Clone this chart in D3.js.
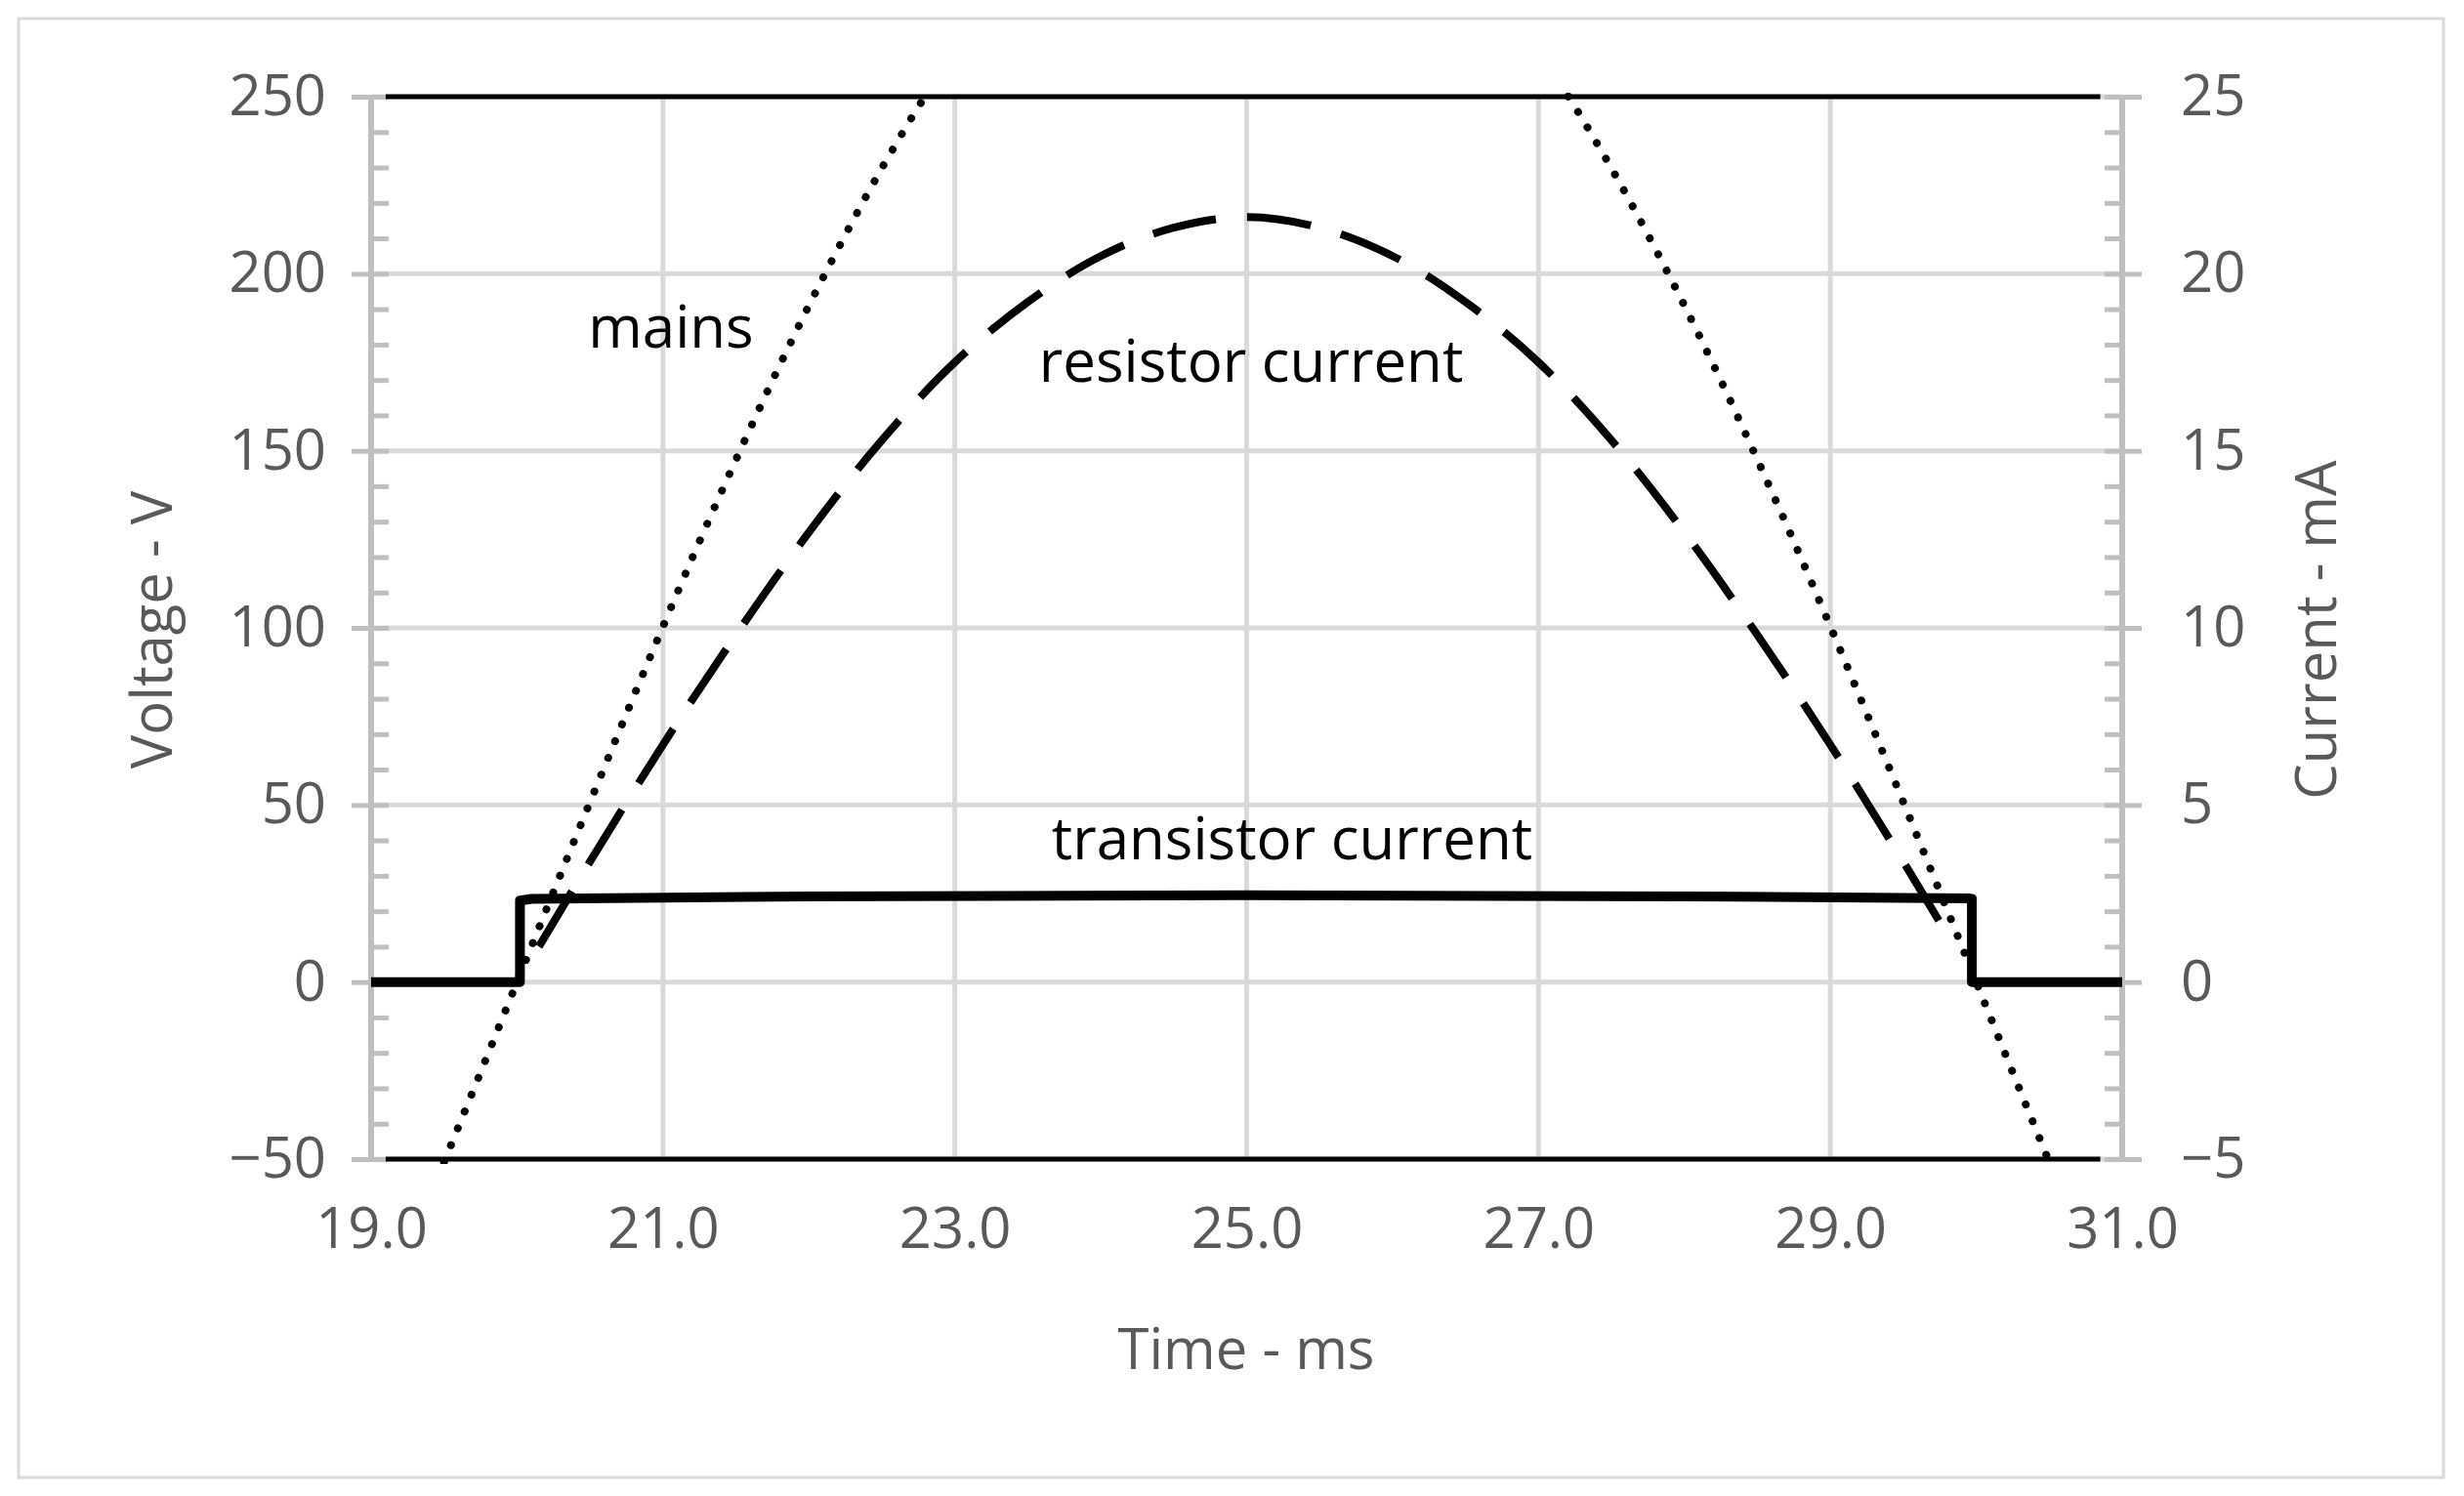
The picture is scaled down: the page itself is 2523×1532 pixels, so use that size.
<!DOCTYPE html>
<html><head><meta charset="utf-8">
<script src="https://cdn.jsdelivr.net/npm/d3@7"></script>
<style>body{margin:0;background:#fff}text{font-family:"Open Sans",sans-serif}</style>
</head><body><svg id="c" width="2523" height="1532"></svg>
<script>
const xTicks=[19,21,23,25,27,29,31];
const vTicks=[-50,0,50,100,150,200,250];
const iTicks=[-5,0,5,10,15,20,25];
const mainsT=[19.5,19.75,20,20.25,20.5,20.75,21,21.25,21.5,21.75,22,22.25,22.5,22.75,23,27,27.25,27.5,27.75,28,28.25,28.5,28.75,29,29.25,29.5,29.75,30,30.25,30.5];
const mainsV=[-50.8,-25.5,0,25.5,50.8,75.8,100.4,124.4,147.5,169.8,191.0,211.0,229.8,247.1,262.9,262.9,247.1,229.8,211.0,191.0,169.8,147.5,124.4,100.4,75.8,50.8,25.5,0,-25.5,-50.8];
const resT=[20.15,20.5,21,21.5,22,22.5,23,23.5,24,24.5,25,25.5,26,26.5,27,27.5,28,28.5,29,29.5,29.85];
const resI=[1.0,3.4,6.7,9.8,12.7,15.3,17.5,19.2,20.5,21.3,21.6,21.3,20.5,19.2,17.5,15.3,12.7,9.8,6.7,3.4,1.0];
const trT=[19,20.02,20.02,20.1,22,25,28,29.95,29.97,29.97,31];
const trI=[0,0,2.3,2.35,2.42,2.45,2.42,2.36,2.35,0,0];
const limT=[19.1,30.85];
const limTop=[250,250];
const limBot=[-50,-50];

const svg=d3.select("#c");
svg.append("rect").attr("x",19).attr("y",19).attr("width",2483).attr("height",1494).attr("fill","none").attr("stroke","#d9d9d9").attr("stroke-width",3);
const x=d3.scaleLinear().domain([19,31]).range([380,2173]);
const yV=d3.scaleLinear().domain([-50,250]).range([1187,99]);
const yI=d3.scaleLinear().domain([-5,25]).range([1187,99]);
const g=svg.append("g");
g.selectAll(".hg").data(vTicks).join("line").attr("x1",380).attr("x2",2173).attr("y1",d=>yV(d)).attr("y2",d=>yV(d)).attr("stroke","#d9d9d9").attr("stroke-width",5);
g.selectAll(".vg").data(xTicks.slice(1,-1)).join("line").attr("x1",d=>x(d)).attr("x2",d=>x(d)).attr("y1",99).attr("y2",1187).attr("stroke","#d9d9d9").attr("stroke-width",5);
const minor=d3.range(-50,251,10);
const la=svg.append("g").attr("transform","translate(380,0)").call(d3.axisLeft(yV).tickValues(minor).tickSize(-18).tickFormat(""));
const lb=svg.append("g").attr("transform","translate(380,0)").call(d3.axisLeft(yV).tickValues(vTicks).tickSize(20).tickPadding(26).tickFormat(d=>d<0?"\u2212"+(-d):d));
const ra=svg.append("g").attr("transform","translate(2173,0)").call(d3.axisRight(yI).tickValues(d3.range(-5,25.1,1)).tickSize(-18).tickFormat(""));
const rb=svg.append("g").attr("transform","translate(2173,0)").call(d3.axisRight(yI).tickValues(iTicks).tickSize(20).tickPadding(40).tickFormat(d=>d<0?"\u2212"+(-d):d));
const xa=svg.append("g").attr("transform","translate(0,1187)").call(d3.axisBottom(x).tickValues(xTicks).tickSize(0).tickPadding(50).tickFormat(d3.format(".1f")));
xa.select(".domain").remove();
[la,lb,ra,rb].forEach(a=>{a.selectAll("line").attr("stroke","#bfbfbf").attr("stroke-width",5);a.select(".domain").attr("stroke","#bfbfbf").attr("stroke-width",6).attr("d",a===la||a===ra?"M0,99V1187":null);});
lb.select(".domain").remove();rb.select(".domain").remove();
svg.selectAll(".tick text").attr("font-size",58).attr("fill","#595959").attr("font-family","Open Sans");
svg.append("defs").append("clipPath").attr("id","cp").append("rect").attr("x",380).attr("y",95).attr("width",1793).attr("height",1097);
const pg=svg.append("g").attr("clip-path","url(#cp)");
const line=(ys)=>d3.line().x(d=>x(d[0])).y(d=>ys(d[1])).curve(d3.curveMonotoneX);
const lin=(ys)=>d3.line().x(d=>x(d[0])).y(d=>ys(d[1]));
pg.append("path").datum(limT.map((t,i)=>[t,limTop[i]])).attr("d",lin(yV)).attr("stroke","#000").attr("stroke-width",5).attr("fill","none");
pg.append("path").datum(limT.map((t,i)=>[t,limBot[i]])).attr("d",lin(yV)).attr("stroke","#000").attr("stroke-width",5).attr("fill","none");
const mA=mainsT.slice(0,15).map((t,i)=>[t,mainsV[i]]), mB=mainsT.slice(15).map((t,i)=>[t,mainsV[i+15]]);
[mA,mB].forEach(d=>pg.append("path").datum(d).attr("d",line(yV)).attr("stroke","#000").attr("stroke-width",8).attr("stroke-linecap","round").attr("stroke-dasharray","0.1 18.5").attr("fill","none"));
pg.append("path").datum(resT.map((t,i)=>[t,resI[i]])).attr("d",d3.line().x(d=>x(d[0])).y(d=>yI(d[1])).curve(d3.curveCatmullRom)).attr("stroke","#000").attr("stroke-width",8).attr("stroke-dasharray","66 32").attr("fill","none");
pg.append("path").datum(trT.map((t,i)=>[t,trI[i]])).attr("d",lin(yI)).attr("stroke","#000").attr("stroke-width",10).attr("stroke-linejoin","round").attr("fill","none");
const lab=(t,xx,yy)=>svg.append("text").attr("x",xx).attr("y",yy).attr("text-anchor","middle").attr("font-size",60).attr("fill","#000").text(t);
lab("mains",687,356);lab("resistor current",1281,391);lab("transistor current",1323,880);
svg.append("text").attr("x",1276).attr("y",1402).attr("text-anchor","middle").attr("font-size",58).attr("fill","#595959").text("Time - ms");
svg.append("text").attr("transform","translate(176,645) rotate(-90)").attr("text-anchor","middle").attr("font-size",58).attr("fill","#595959").text("Voltage - V");
svg.append("text").attr("transform","translate(2392,645) rotate(-90)").attr("text-anchor","middle").attr("font-size",58).attr("fill","#595959").text("Current - mA");
</script></body></html>
